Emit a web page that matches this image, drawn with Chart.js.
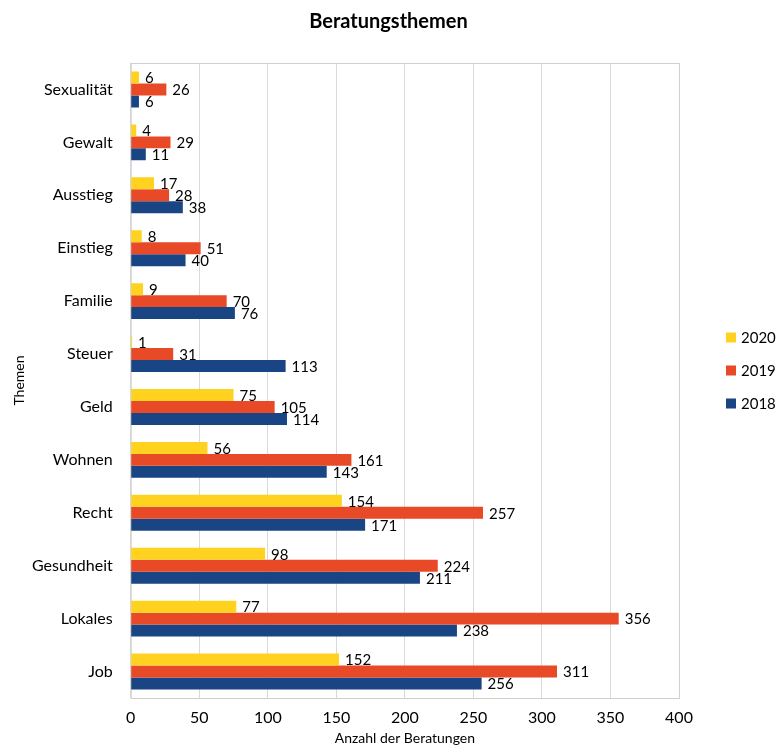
<!DOCTYPE html>
<html>
<head>
<meta charset="utf-8">
<script src="https://cdn.jsdelivr.net/npm/chart.js@4/dist/chart.umd.min.js"></script>
<style>
  html, body { margin: 0; padding: 0; background: #fff; }
  #wrap { width: 777px; height: 747px; }
</style>
</head>
<body>
<div id="wrap"><canvas id="chart"></canvas></div>
<script>
// Chart data
const themen = ['Sexualität', 'Gewalt', 'Ausstieg', 'Einstieg', 'Familie', 'Steuer',
    'Geld', 'Wohnen', 'Recht', 'Gesundheit', 'Lokales', 'Job'];
const werte2020 = [6, 4, 17, 8, 9, 1, 75, 56, 154, 98, 77, 152];
const werte2019 = [26, 29, 28, 51, 70, 31, 105, 161, 257, 224, 356, 311];
const werte2018 = [6, 11, 38, 40, 76, 113, 114, 143, 171, 211, 238, 256];
const xTicks = [0, 50, 100, 150, 200, 250, 300, 350, 400];
const chartTitle = 'Beratungsthemen';

const FONT = 'Lato, "Open Sans", sans-serif';

// draws the value next to each bar end
const valueLabels = {
    id: 'valueLabels',
    afterDatasetsDraw(chart) {
        const ctx = chart.ctx;
        ctx.save();
        ctx.font = '15px ' + FONT;
        ctx.fillStyle = '#000';
        ctx.textAlign = 'left';
        ctx.textBaseline = 'middle';
        chart.data.datasets.forEach(function(ds, i) {
            chart.getDatasetMeta(i).data.forEach(function(bar, j) {
                ctx.fillText(ds.data[j], bar.x + 6, bar.y + 1);
            });
        });
        ctx.restore();
    }
};

// frame around the plot area
const plotFrame = {
    id: 'plotFrame',
    beforeDatasetsDraw(chart) {
        const a = chart.chartArea;
        const ctx = chart.ctx;
        ctx.save();
        ctx.strokeStyle = '#d0d0d0';
        ctx.lineWidth = 1;
        ctx.strokeRect(a.left + 0.5, a.top + 0.5, a.right - a.left, a.bottom - a.top);
        ctx.restore();
    }
};

// title centred on the whole canvas, legend stacked on the right
const titleAndLegend = {
    id: 'titleAndLegend',
    afterDraw(chart) {
        const a = chart.chartArea;
        const ctx = chart.ctx;
        ctx.save();
        ctx.fillStyle = '#000';
        ctx.font = 'bold 20px ' + FONT;
        ctx.textAlign = 'center';
        ctx.textBaseline = 'middle';
        ctx.fillText(chartTitle, chart.width / 2, 22);

        const mid = (a.top + a.bottom) / 2 - 10;
        const step = 33;
        ctx.font = '15px ' + FONT;
        ctx.textAlign = 'left';
        chart.data.datasets.forEach(function(ds, i) {
            const y = mid + (i - 1) * step;
            ctx.fillStyle = ds.backgroundColor;
            ctx.fillRect(a.right + 47, y - 5, 10, 10);
            ctx.fillStyle = '#000';
            ctx.fillText(ds.label, a.right + 62, y + 1);
        });
        ctx.restore();
    }
};

new Chart(document.getElementById('chart'), {
    type: 'bar',
    data: {
        labels: themen,
        datasets: [
            { label: '2020', data: werte2020, backgroundColor: '#FFD21F' },
            { label: '2019', data: werte2019, backgroundColor: '#E84926' },
            { label: '2018', data: werte2018, backgroundColor: '#1A4585' }
        ]
    },
    options: {
        indexAxis: 'y',
        responsive: true,
        maintainAspectRatio: false,
        animation: false,
        datasets: {
            bar: { categoryPercentage: 0.68, barPercentage: 1.0 }
        },
        layout: { padding: { top: 63, right: 98, left: 5, bottom: 0 } },
        plugins: {
            title: { display: false },
            legend: { display: false },
            tooltip: { enabled: false }
        },
        scales: {
            x: {
                min: 0,
                max: 400,
                afterBuildTicks: function(axis) {
                    axis.ticks = xTicks.map(v => ({ value: v }));
                },
                grid: { color: '#d9d9d9', drawTicks: false },
                border: { display: false },
                ticks: { color: '#000', padding: 12, font: { family: FONT, size: 16, lineHeight: 1 } },
                title: {
                    display: true,
                    text: 'Anzahl der Beratungen',
                    color: '#000',
                    font: { family: FONT, size: 14, lineHeight: 1 },
                    padding: { top: -7, bottom: 2 }
                }
            },
            y: {
                grid: { display: false },
                border: { display: false },
                ticks: { color: '#000', padding: 10, font: { family: FONT, size: 16 } },
                title: {
                    display: true,
                    text: 'Themen',
                    color: '#000',
                    font: { family: FONT, size: 14, lineHeight: 1 },
                    padding: { top: 7, bottom: -4 }
                }
            }
        }
    },
    plugins: [plotFrame, valueLabels, titleAndLegend]
});
</script>
</body>
</html>
